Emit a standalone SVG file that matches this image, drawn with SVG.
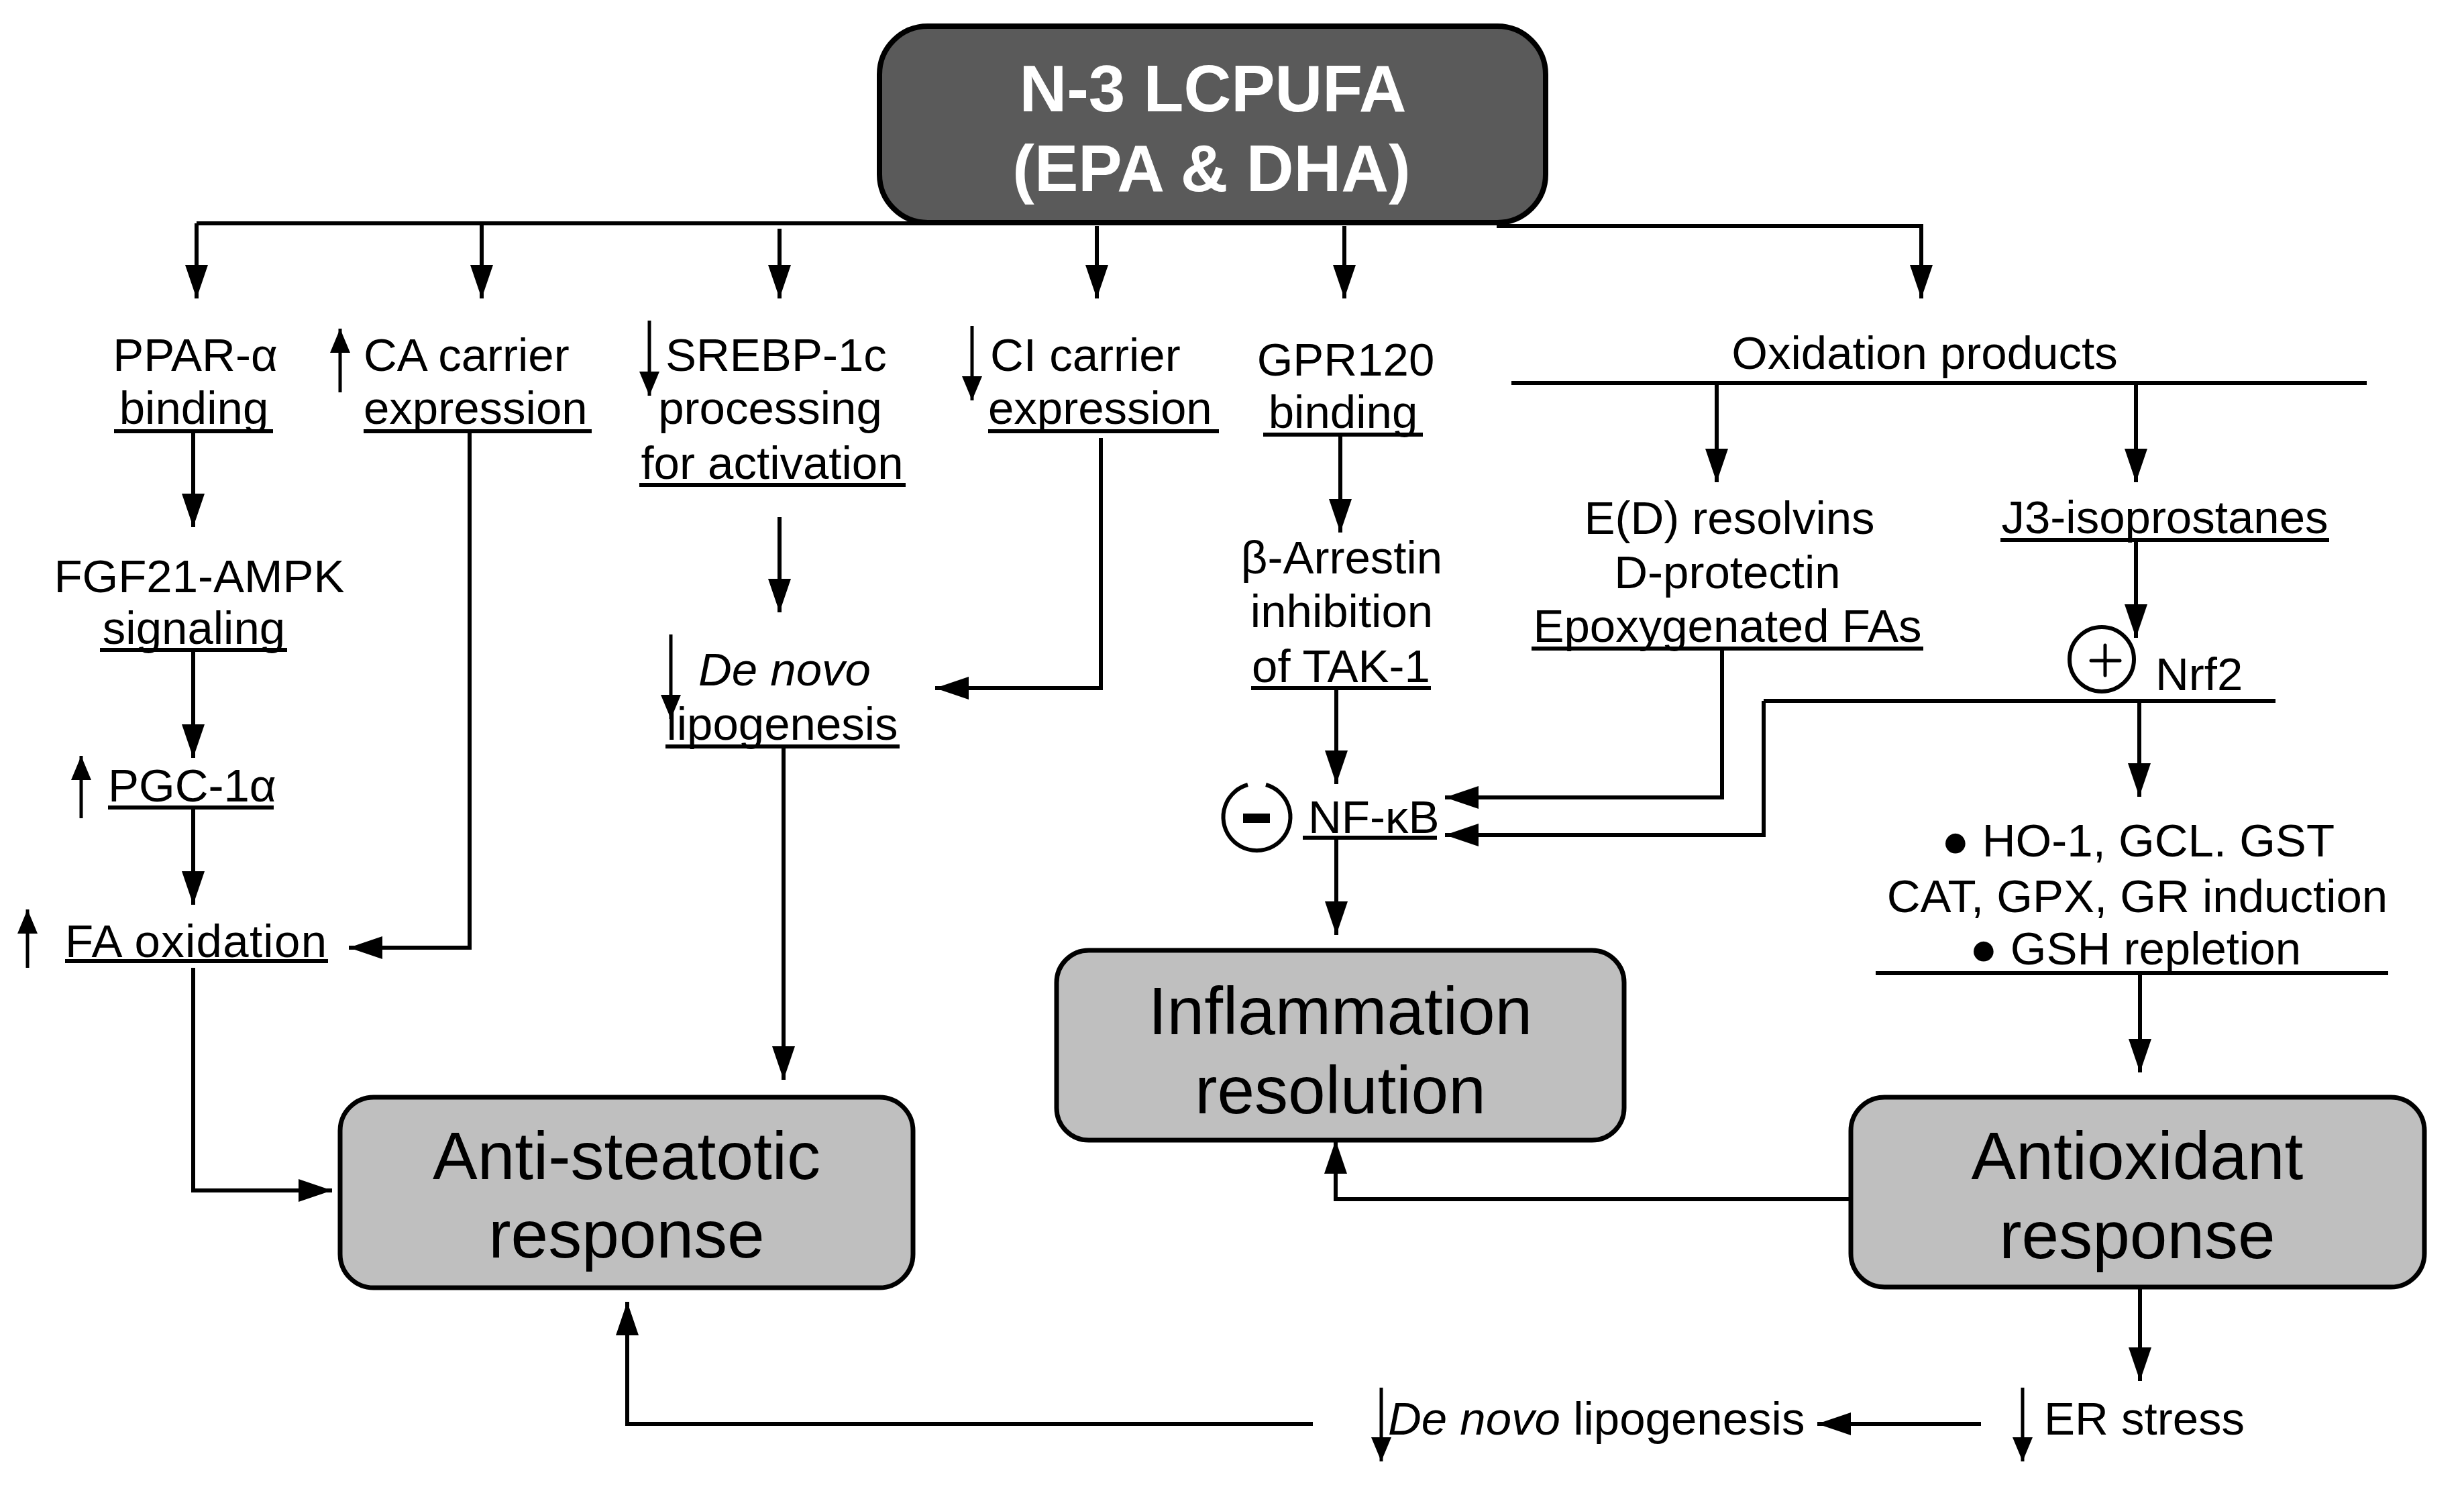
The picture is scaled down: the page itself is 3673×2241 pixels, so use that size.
<svg xmlns="http://www.w3.org/2000/svg" width="3673" height="2241" viewBox="0 0 3673 2241">
<defs>
<marker id="ah" markerUnits="userSpaceOnUse" markerWidth="50" markerHeight="34" refX="50" refY="17" orient="auto"><path d="M0,0 L50,17 L0,34 z" fill="#000"/></marker>
<marker id="sh" markerUnits="userSpaceOnUse" markerWidth="36" markerHeight="30" refX="36" refY="15" orient="auto"><path d="M0,0 L36,15 L0,30 z" fill="#000"/></marker>
<style>
text{font-family:"Liberation Sans",Arial,sans-serif;fill:#000}
.t{font-size:69px}
.big{font-size:100px}
.title{font-size:98px;font-weight:bold;fill:#fff}
.c{stroke:#000;stroke-width:6;fill:none}
.cm{stroke:#000;stroke-width:6;fill:none;marker-end:url(#ah)}
.sm{stroke:#000;stroke-width:5;fill:none;marker-end:url(#sh)}
.u{stroke:#000;stroke-width:6}
.box{fill:#bfbfbf;stroke:#000;stroke-width:7}
</style>
</defs>
<rect width="3673" height="2241" fill="#fff"/>

<g id="connectors">
<line class="c" x1="293" y1="333" x2="1400" y2="333"/>
<line class="c" x1="2231" y1="337" x2="2867" y2="337"/>
<line class="cm" x1="293" y1="333" x2="293" y2="445"/>
<line class="cm" x1="718" y1="333" x2="718" y2="445"/>
<line class="cm" x1="1162" y1="341" x2="1162" y2="445"/>
<line class="cm" x1="1635" y1="337" x2="1635" y2="445"/>
<line class="cm" x1="2004" y1="337" x2="2004" y2="445"/>
<line class="cm" x1="2864" y1="337" x2="2864" y2="445"/>
<line class="cm" x1="288" y1="643" x2="288" y2="786"/>
<line class="cm" x1="288" y1="969" x2="288" y2="1130"/>
<line class="cm" x1="288" y1="1204" x2="288" y2="1349"/>
<polyline class="cm" points="288,1443 288,1775 495,1775"/>
<polyline class="cm" points="700,643 700,1413 520,1413"/>
<line class="cm" x1="1162" y1="771" x2="1162" y2="913"/>
<line class="cm" x1="1168" y1="1113" x2="1168" y2="1610"/>
<polyline class="cm" points="1641,653 1641,1026 1394,1026"/>
<line class="cm" x1="1998" y1="648" x2="1998" y2="794"/>
<line class="cm" x1="1992" y1="1026" x2="1992" y2="1169"/>
<line class="cm" x1="1992" y1="1248" x2="1992" y2="1394"/>
<line class="c" x1="2253" y1="571" x2="3528" y2="571"/>
<line class="cm" x1="2559" y1="571" x2="2559" y2="719"/>
<line class="cm" x1="3184" y1="571" x2="3184" y2="719"/>
<line class="cm" x1="3184" y1="805" x2="3184" y2="951"/>
<polyline class="cm" points="2567,967 2567,1189 2154,1189"/>
<line class="c" x1="2629" y1="1045" x2="3392" y2="1045"/>
<polyline class="cm" points="2629,1045 2629,1245 2154,1245"/>
<line class="cm" x1="3189" y1="1045" x2="3189" y2="1188"/>
<line class="c" x1="2796" y1="1451" x2="3560" y2="1451"/>
<line class="cm" x1="3190" y1="1451" x2="3190" y2="1599"/>
<polyline class="cm" points="2757,1788 1991,1788 1991,1700"/>
<line class="cm" x1="3190" y1="1922" x2="3190" y2="2059"/>
<line class="cm" x1="2953" y1="2123" x2="2709" y2="2123"/>
<polyline class="cm" points="1957,2123 935,2123 935,1941"/>
<line class="sm" x1="507" y1="585" x2="507" y2="490"/>
<line class="sm" x1="968" y1="478" x2="968" y2="590"/>
<line class="sm" x1="1449" y1="486" x2="1449" y2="597"/>
<line class="sm" x1="121" y1="1220" x2="121" y2="1127"/>
<line class="sm" x1="41" y1="1443" x2="41" y2="1356"/>
<line class="sm" x1="1000" y1="946" x2="1000" y2="1072"/>
<line class="sm" x1="2059" y1="2069" x2="2059" y2="2179"/>
<line class="sm" x1="3015" y1="2069" x2="3015" y2="2179"/>
</g>

<g id="n3lcpufa">
<rect x="1311" y="39" width="993" height="293" rx="72" ry="72" fill="#5a5a5a" stroke="#000" stroke-width="8"/>
<text class="title" x="1808" y="166" text-anchor="middle">N-3 LCPUFA</text>
<text class="title" x="1806" y="285" text-anchor="middle">(EPA &amp; DHA)</text>
</g>

<g id="ppar">
<text class="t" x="291" y="553" text-anchor="middle">PPAR-α</text>
<text class="t" x="289" y="632" text-anchor="middle">binding</text>
<line class="u" x1="170" y1="643" x2="407" y2="643"/>
</g>
<g id="fgf21">
<text class="t" x="297" y="883" text-anchor="middle">FGF21-AMPK</text>
<text class="t" x="289" y="960" text-anchor="middle">signaling</text>
<line class="u" x1="149" y1="969" x2="428" y2="969"/>
</g>
<g id="pgc">
<text class="t" x="161" y="1195">PGC-1α</text>
<line class="u" x1="161" y1="1204" x2="408" y2="1204"/>
</g>
<g id="faox">
<text class="t" x="97" y="1427" textLength="390" lengthAdjust="spacing">FA oxidation</text>
<line class="u" x1="97" y1="1433" x2="489" y2="1433"/>
</g>
<g id="cacarrier">
<text class="t" x="542" y="553">CA carrier</text>
<text class="t" x="542" y="632">expression</text>
<line class="u" x1="542" y1="643" x2="882" y2="643"/>
</g>
<g id="srebp">
<text class="t" x="992" y="553">SREBP-1c</text>
<text class="t" x="1148" y="632" text-anchor="middle">processing</text>
<text class="t" x="1151" y="714" text-anchor="middle">for activation</text>
<line class="u" x1="953" y1="723" x2="1350" y2="723"/>
</g>
<g id="denovo1">
<text class="t" x="1041" y="1022" font-style="italic">De novo</text>
<text class="t" x="1166" y="1103" text-anchor="middle">lipogenesis</text>
<line class="u" x1="992" y1="1113" x2="1341" y2="1113"/>
</g>
<g id="cicarrier">
<text class="t" x="1476" y="553">CI carrier</text>
<text class="t" x="1473" y="632">expression</text>
<line class="u" x1="1473" y1="643" x2="1817" y2="643"/>
</g>
<g id="gpr120">
<text class="t" x="2006" y="560" text-anchor="middle">GPR120</text>
<text class="t" x="2002" y="638" text-anchor="middle">binding</text>
<line class="u" x1="1883" y1="648" x2="2121" y2="648"/>
</g>
<g id="arrestin">
<text class="t" x="2000" y="855" text-anchor="middle">β-Arrestin</text>
<text class="t" x="2000" y="935" text-anchor="middle">inhibition</text>
<text class="t" x="1999" y="1017" text-anchor="middle">of TAK-1</text>
<line class="u" x1="1865" y1="1026" x2="2133" y2="1026"/>
</g>
<g id="nfkb">
<path d="M1887,1170 A50,50 0 1 1 1860,1170" fill="none" stroke="#000" stroke-width="6"/>
<rect x="1853" y="1213" width="40" height="14" fill="#000"/>
<text class="t" x="1950" y="1242">NF-κB</text>
<line class="u" x1="1942" y1="1249" x2="2142" y2="1249"/>
</g>
<g id="inflammation">
<rect class="box" x="1575" y="1417" width="846" height="283" rx="48" ry="48"/>
<text class="big" x="1998" y="1542" text-anchor="middle">Inflammation</text>
<text class="big" x="1998" y="1660" text-anchor="middle">resolution</text>
</g>
<g id="oxidation">
<text class="t" x="2869" y="550" text-anchor="middle">Oxidation products</text>
</g>
<g id="resolvins">
<text class="t" x="2578" y="796" text-anchor="middle">E(D) resolvins</text>
<text class="t" x="2575" y="877" text-anchor="middle">D-protectin</text>
<text class="t" x="2575" y="957" text-anchor="middle">Epoxygenated FAs</text>
<line class="u" x1="2283" y1="967" x2="2867" y2="967"/>
</g>
<g id="isoprostanes">
<text class="t" x="3227" y="795" text-anchor="middle">J3-isoprostanes</text>
<line class="u" x1="2982" y1="805" x2="3472" y2="805"/>
</g>
<g id="nrf2">
<circle cx="3133" cy="983" r="48" fill="none" stroke="#000" stroke-width="6"/>
<line x1="3117" y1="985" x2="3160" y2="985" stroke="#000" stroke-width="5" stroke-linecap="round"/>
<line x1="3138" y1="962" x2="3138" y2="1007" stroke="#000" stroke-width="5" stroke-linecap="round"/>
<text class="t" x="3213" y="1029">Nrf2</text>
</g>
<g id="enzymes">
<text class="t" x="3187" y="1277" text-anchor="middle">● HO-1, GCL. GST</text>
<text class="t" x="3186" y="1360" text-anchor="middle">CAT, GPX, GR induction</text>
<text class="t" x="3183" y="1438" text-anchor="middle">● GSH repletion</text>
</g>
<g id="antisteatotic">
<rect class="box" x="507" y="1636" width="854" height="284" rx="50" ry="50"/>
<text class="big" x="934" y="1758" text-anchor="middle">Anti-steatotic</text>
<text class="big" x="934" y="1875" text-anchor="middle">response</text>
</g>
<g id="antioxidant">
<rect class="box" x="2759" y="1636" width="855" height="283" rx="50" ry="50"/>
<text class="big" x="3186" y="1758" text-anchor="middle">Antioxidant</text>
<text class="big" x="3186" y="1876" text-anchor="middle">response</text>
</g>
<g id="erstress">
<text class="t" x="3047" y="2139">ER stress</text>
</g>
<g id="denovo2">
<text class="t" x="2069" y="2139"><tspan font-style="italic">De novo</tspan> lipogenesis</text>
</g>
</svg>
